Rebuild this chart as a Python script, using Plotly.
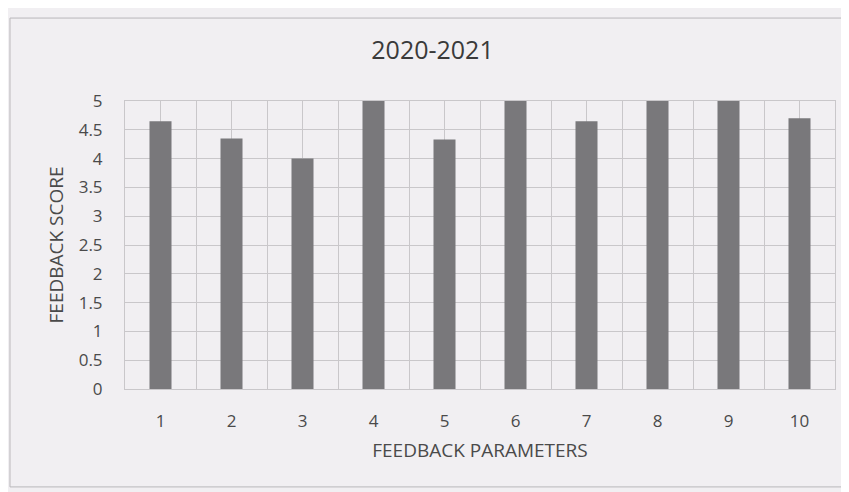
import plotly.graph_objects as go

parameters = [1, 2, 3, 4, 5, 6, 7, 8, 9, 10]
scores = [4.65, 4.35, 4.0, 5.0, 4.33, 5.0, 4.65, 5.0, 5.0, 4.7]
y_ticks = [0, 0.5, 1, 1.5, 2, 2.5, 3, 3.5, 4, 4.5, 5]
y_tick_labels = ["0", "0.5", "1", "1.5", "2", "2.5", "3", "3.5", "4", "4.5", "5"]

BG = "#f1eff2"
GRID = "#c9c7ca"
TXT = "#4a4a4a"
FONT = "Open Sans"

fig = go.Figure(go.Bar(
    x=parameters, y=scores,
    width=0.31,
    marker=dict(color="#79787b", line=dict(width=0)),
))

fig.update_layout(
    width=849, height=492,
    paper_bgcolor=BG, plot_bgcolor=BG,
    margin=dict(l=117, r=22, t=93, b=111),
    showlegend=False,
    title=dict(text="2020-2021", x=0.5, xanchor="center", y=0.914, yanchor="middle",
               font=dict(family=FONT, size=25, color="#3a3a3a")),
    font=dict(family=FONT, color=TXT),
    shapes=[dict(type="rect", xref="paper", yref="paper",
                 x0=-0.162, x1=1.06, y0=-0.340, y1=1.288,
                 line=dict(color="#b9b7ba", width=1), fillcolor="rgba(0,0,0,0)", layer="below")],
)

fig.update_xaxes(
    range=[0.5, 10.5], tickmode="array", tickvals=parameters,
    ticktext=[str(p) for p in parameters],
    showgrid=True, gridcolor=GRID, gridwidth=1,
    minor=dict(dtick=1, tick0=0.5, showgrid=True, gridcolor=GRID, gridwidth=1),
    showline=True, linecolor=GRID, mirror=True,
    ticks="", ticklabelstandoff=17,
    tickfont=dict(size=17, color=TXT),
    title=dict(text="FEEDBACK PARAMETERS", font=dict(size=19, color=TXT), standoff=12),
    zeroline=False,
)
fig.update_yaxes(
    range=[0, 5], tickmode="array", tickvals=y_ticks, ticktext=y_tick_labels,
    showgrid=True, gridcolor=GRID, gridwidth=1,
    showline=True, linecolor=GRID, mirror=True,
    ticks="", ticklabelstandoff=18,
    tickfont=dict(size=17, color=TXT),
    title=dict(text="FEEDBACK SCORE", font=dict(size=19, color=TXT), standoff=10),
    zeroline=False,
)

fig.write_html("out.html")
